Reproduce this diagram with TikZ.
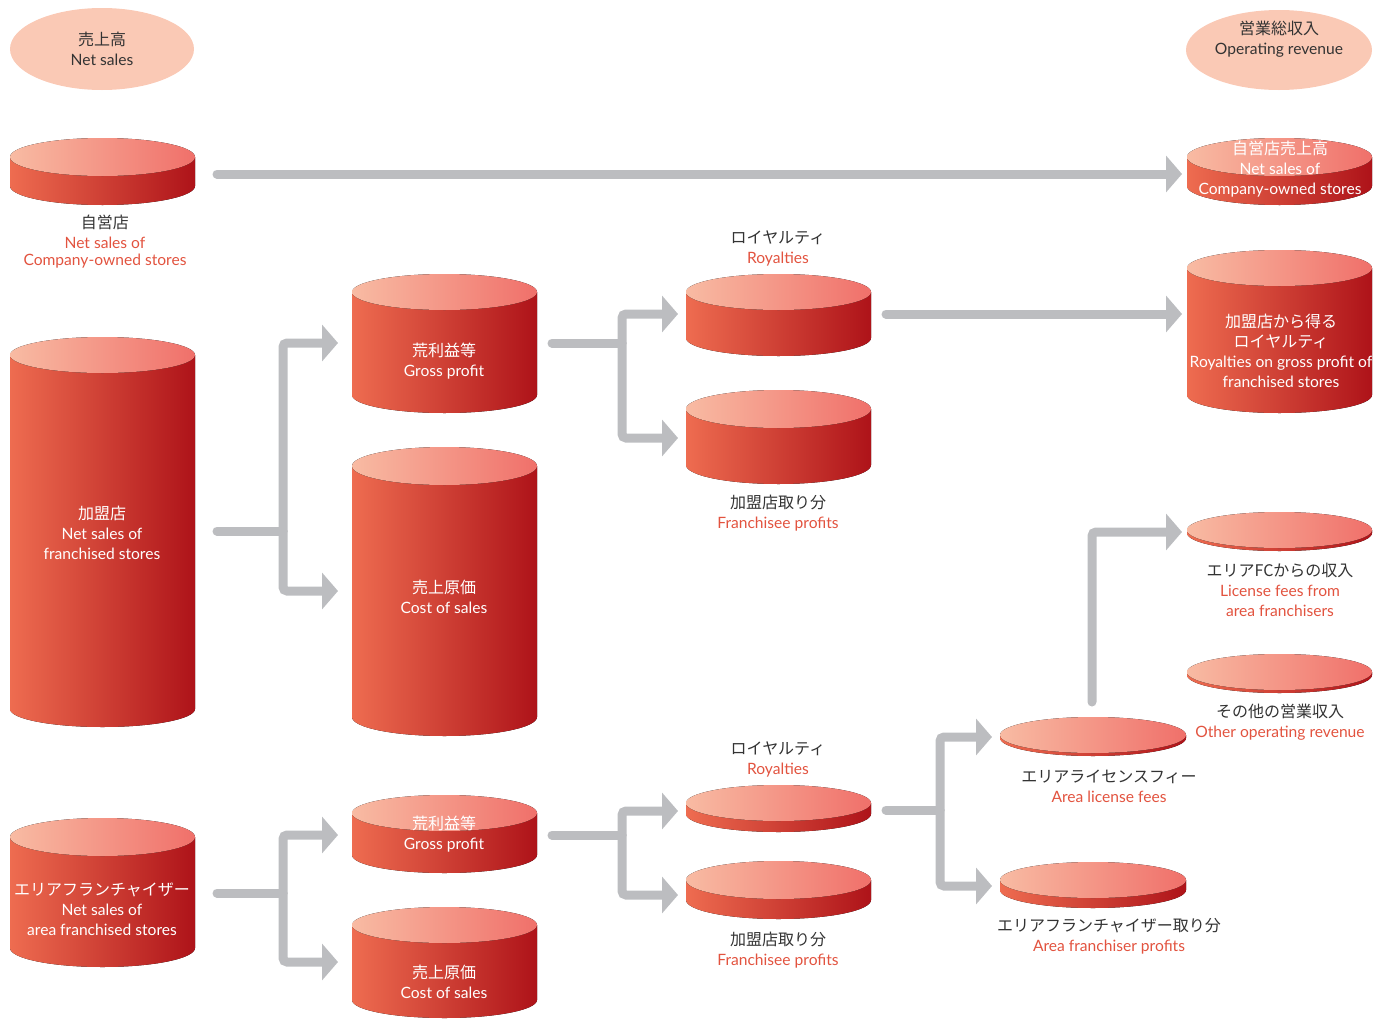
\documentclass[tikz,border=0pt]{standalone}
\usepackage{fontspec}
\setmainfont{Lato}
\newfontfamily\jpfont{Noto Sans CJK JP}
\usetikzlibrary{arrows.meta,calc}
\definecolor{flowgray}{HTML}{BCBDC0}
\definecolor{topL}{HTML}{F8BBA3}
\definecolor{topR}{HTML}{F0706A}
\definecolor{sideL}{HTML}{EE6C50}
\definecolor{sideR}{HTML}{AE1319}
\definecolor{pale}{HTML}{FAC9B5}
\definecolor{txtc}{HTML}{333333}
\definecolor{redtxt}{HTML}{E2533F}
\newcommand\mycyl[6]{% name, x1, x2, top cy, bottom cy, ry
  \fill[left color=sideL, right color=sideR] (#2,#4) -- (#2,#5)
     arc[start angle=180, end angle=0, x radius={(#3-#2)/2}, y radius=#6] -- (#3,#4) -- cycle;
  \fill[left color=topL, right color=topR] ({(#2+#3)/2},#4) ellipse[x radius={(#3-#2)/2}, y radius=#6];
  \node[inner sep=0pt, minimum width={(#3-#2)*1pt}, minimum height={(#5-#4+2*#6)*1pt}] (#1) at ({(#2+#3)/2},{(#4+#5)/2}) {};
}
\newcommand\rd[1]{{\color{redtxt}#1}}
\newcommand\jp[1]{{\jpfont\fontsize{16}{20}\selectfont #1}}
\begin{document}
\begin{tikzpicture}[x=1pt, y=1pt, yscale=-1,
  lbl/.style={align=center, inner sep=0pt, text=txtc, font=\fontsize{15.6}{20}\selectfont},
  wlbl/.style={lbl, text=white},
  flow/.style={draw=flowgray, line width=9pt, line cap=round},
  flowA/.style={flow, rounded corners=4pt, -{Triangle[width=36pt,length=16pt]}}]
\useasboundingbox (0,0) rectangle (1385,1018);

% header ellipses
\fill[pale] (102,49) ellipse[x radius=92, y radius=41];
\node[inner sep=0pt, minimum width=184pt, minimum height=82pt] (ns) at (102,49) {};
\fill[pale] (1279,50) ellipse[x radius=93, y radius=40];
\node[inner sep=0pt, minimum width=186pt, minimum height=80pt] (orv) at (1279,50) {};

% cylinders
\mycyl{A}{10}{195}{157}{186}{19}
\mycyl{B}{1187}{1372}{157}{186}{19}
\mycyl{C}{10}{195}{355}{709}{18}
\mycyl{D}{352}{537}{292}{395}{18}
\mycyl{E}{352}{537}{466}{717}{19}
\mycyl{F}{686}{871}{292}{338}{18}
\mycyl{G}{686}{871}{409}{465}{19}
\mycyl{H}{1187}{1372}{268}{395}{18}
\mycyl{I}{1187}{1372}{530}{533}{18}
\mycyl{J}{1187}{1372}{672}{675}{18}
\mycyl{K}{1000}{1186}{735}{738}{18}
\mycyl{L}{10}{195}{837}{948}{19}
\mycyl{M}{352}{537}{813}{855}{18}
\mycyl{N}{352}{537}{925}{1000}{18}
\mycyl{O}{686}{871}{803}{814}{18}
\mycyl{P}{686}{871}{880}{900}{19}
\mycyl{Q}{1000}{1186}{880}{890}{18}

% connector coordinates
\coordinate (a1) at (217,174); \coordinate (a2) at (1182,174);
\coordinate (b1) at (217,531); \coordinate (bj) at (283,531);
\coordinate (bt1) at (338,343); \coordinate (bt2) at (338,591);
\coordinate (c1) at (552,343); \coordinate (cj) at (622,343);
\coordinate (ct1) at (678,314); \coordinate (ct2) at (678,438);
\coordinate (d1) at (886,314); \coordinate (d2) at (1182,314);
\coordinate (e1) at (217,893); \coordinate (ej) at (283,893);
\coordinate (et1) at (338,835); \coordinate (et2) at (338,962);
\coordinate (f1) at (552,835); \coordinate (fj) at (622,835);
\coordinate (ft1) at (678,811); \coordinate (ft2) at (678,895);
\coordinate (g1) at (886,810); \coordinate (gj) at (940,810);
\coordinate (gt1) at (992,737); \coordinate (gt2) at (992,886);
\coordinate (h1) at (1092,702); \coordinate (h2) at (1182,532);

% connectors
\draw[flowA] (a1) -- (a2);
\draw[flow] (b1) -- (bj);
\draw[flowA] (bj) |- (bt1);
\draw[flowA] (bj) |- (bt2);
\draw[flow] (c1) -- (cj);
\draw[flowA] (cj) |- (ct1);
\draw[flowA] (cj) |- (ct2);
\draw[flowA] (d1) -- (d2);
\draw[flow] (e1) -- (ej);
\draw[flowA] (ej) |- (et1);
\draw[flowA] (ej) |- (et2);
\draw[flow] (f1) -- (fj);
\draw[flowA] (fj) |- (ft1);
\draw[flowA] (fj) |- (ft2);
\draw[flow] (g1) -- (gj);
\draw[flowA] (gj) |- (gt1);
\draw[flowA] (gj) |- (gt2);
\draw[flowA] (h1) |- (h2);

% texts
\node[lbl] (tns) at (102,49) {\jp{売上高}\\Net sales};
\node[lbl] (torv) at (1279,39) {\jp{営業総収入}\\Operating revenue};
\node[lbl] (tA) at (105,242) {\jp{自営店}\\\rd{Net sales of}\\[-3pt]\rd{Company-owned stores}};
\node[wlbl] (tB) at (1280,169) {\jp{自営店売上高}\\Net sales of\\Company-owned stores};
\node[wlbl] (tC) at (102,533) {\jp{加盟店}\\Net sales of\\franchised stores};
\node[wlbl] (tD) at (444,361) {\jp{荒利益等}\\Gross profit};
\node[wlbl] (tE) at (444,597) {\jp{売上原価}\\Cost of sales};
\node[lbl] (tF) at (778,248) {\jp{ロイヤルティ}\\\rd{Royalties}};
\node[lbl] (tG) at (778,513) {\jp{加盟店取り分}\\\rd{Franchisee profits}};
\node[wlbl] (tH) at (1281,351) {\jp{加盟店から得る}\\\jp{ロイヤルティ}\\Royalties on gross profit of\\franchised stores};
\node[lbl] (tI) at (1280,590) {\jp{エリアFCからの収入}\\\rd{License fees from}\\\rd{area franchisers}};
\node[lbl] (tJ) at (1280,722) {\jp{その他の営業収入}\\\rd{Other operating revenue}};
\node[lbl] (tK) at (1109,786) {\jp{エリアライセンスフィー}\\\rd{Area license fees}};
\node[wlbl] (tL) at (102,909) {\jp{エリアフランチャイザー}\\Net sales of\\area franchised stores};
\node[wlbl] (tM) at (444,834) {\jp{荒利益等}\\Gross profit};
\node[wlbl] (tN) at (444,982) {\jp{売上原価}\\Cost of sales};
\node[lbl] (tO) at (778,759) {\jp{ロイヤルティ}\\\rd{Royalties}};
\node[lbl] (tP) at (778,950) {\jp{加盟店取り分}\\\rd{Franchisee profits}};
\node[lbl] (tQ) at (1109,936) {\jp{エリアフランチャイザー取り分}\\\rd{Area franchiser profits}};
\end{tikzpicture}
\end{document}
